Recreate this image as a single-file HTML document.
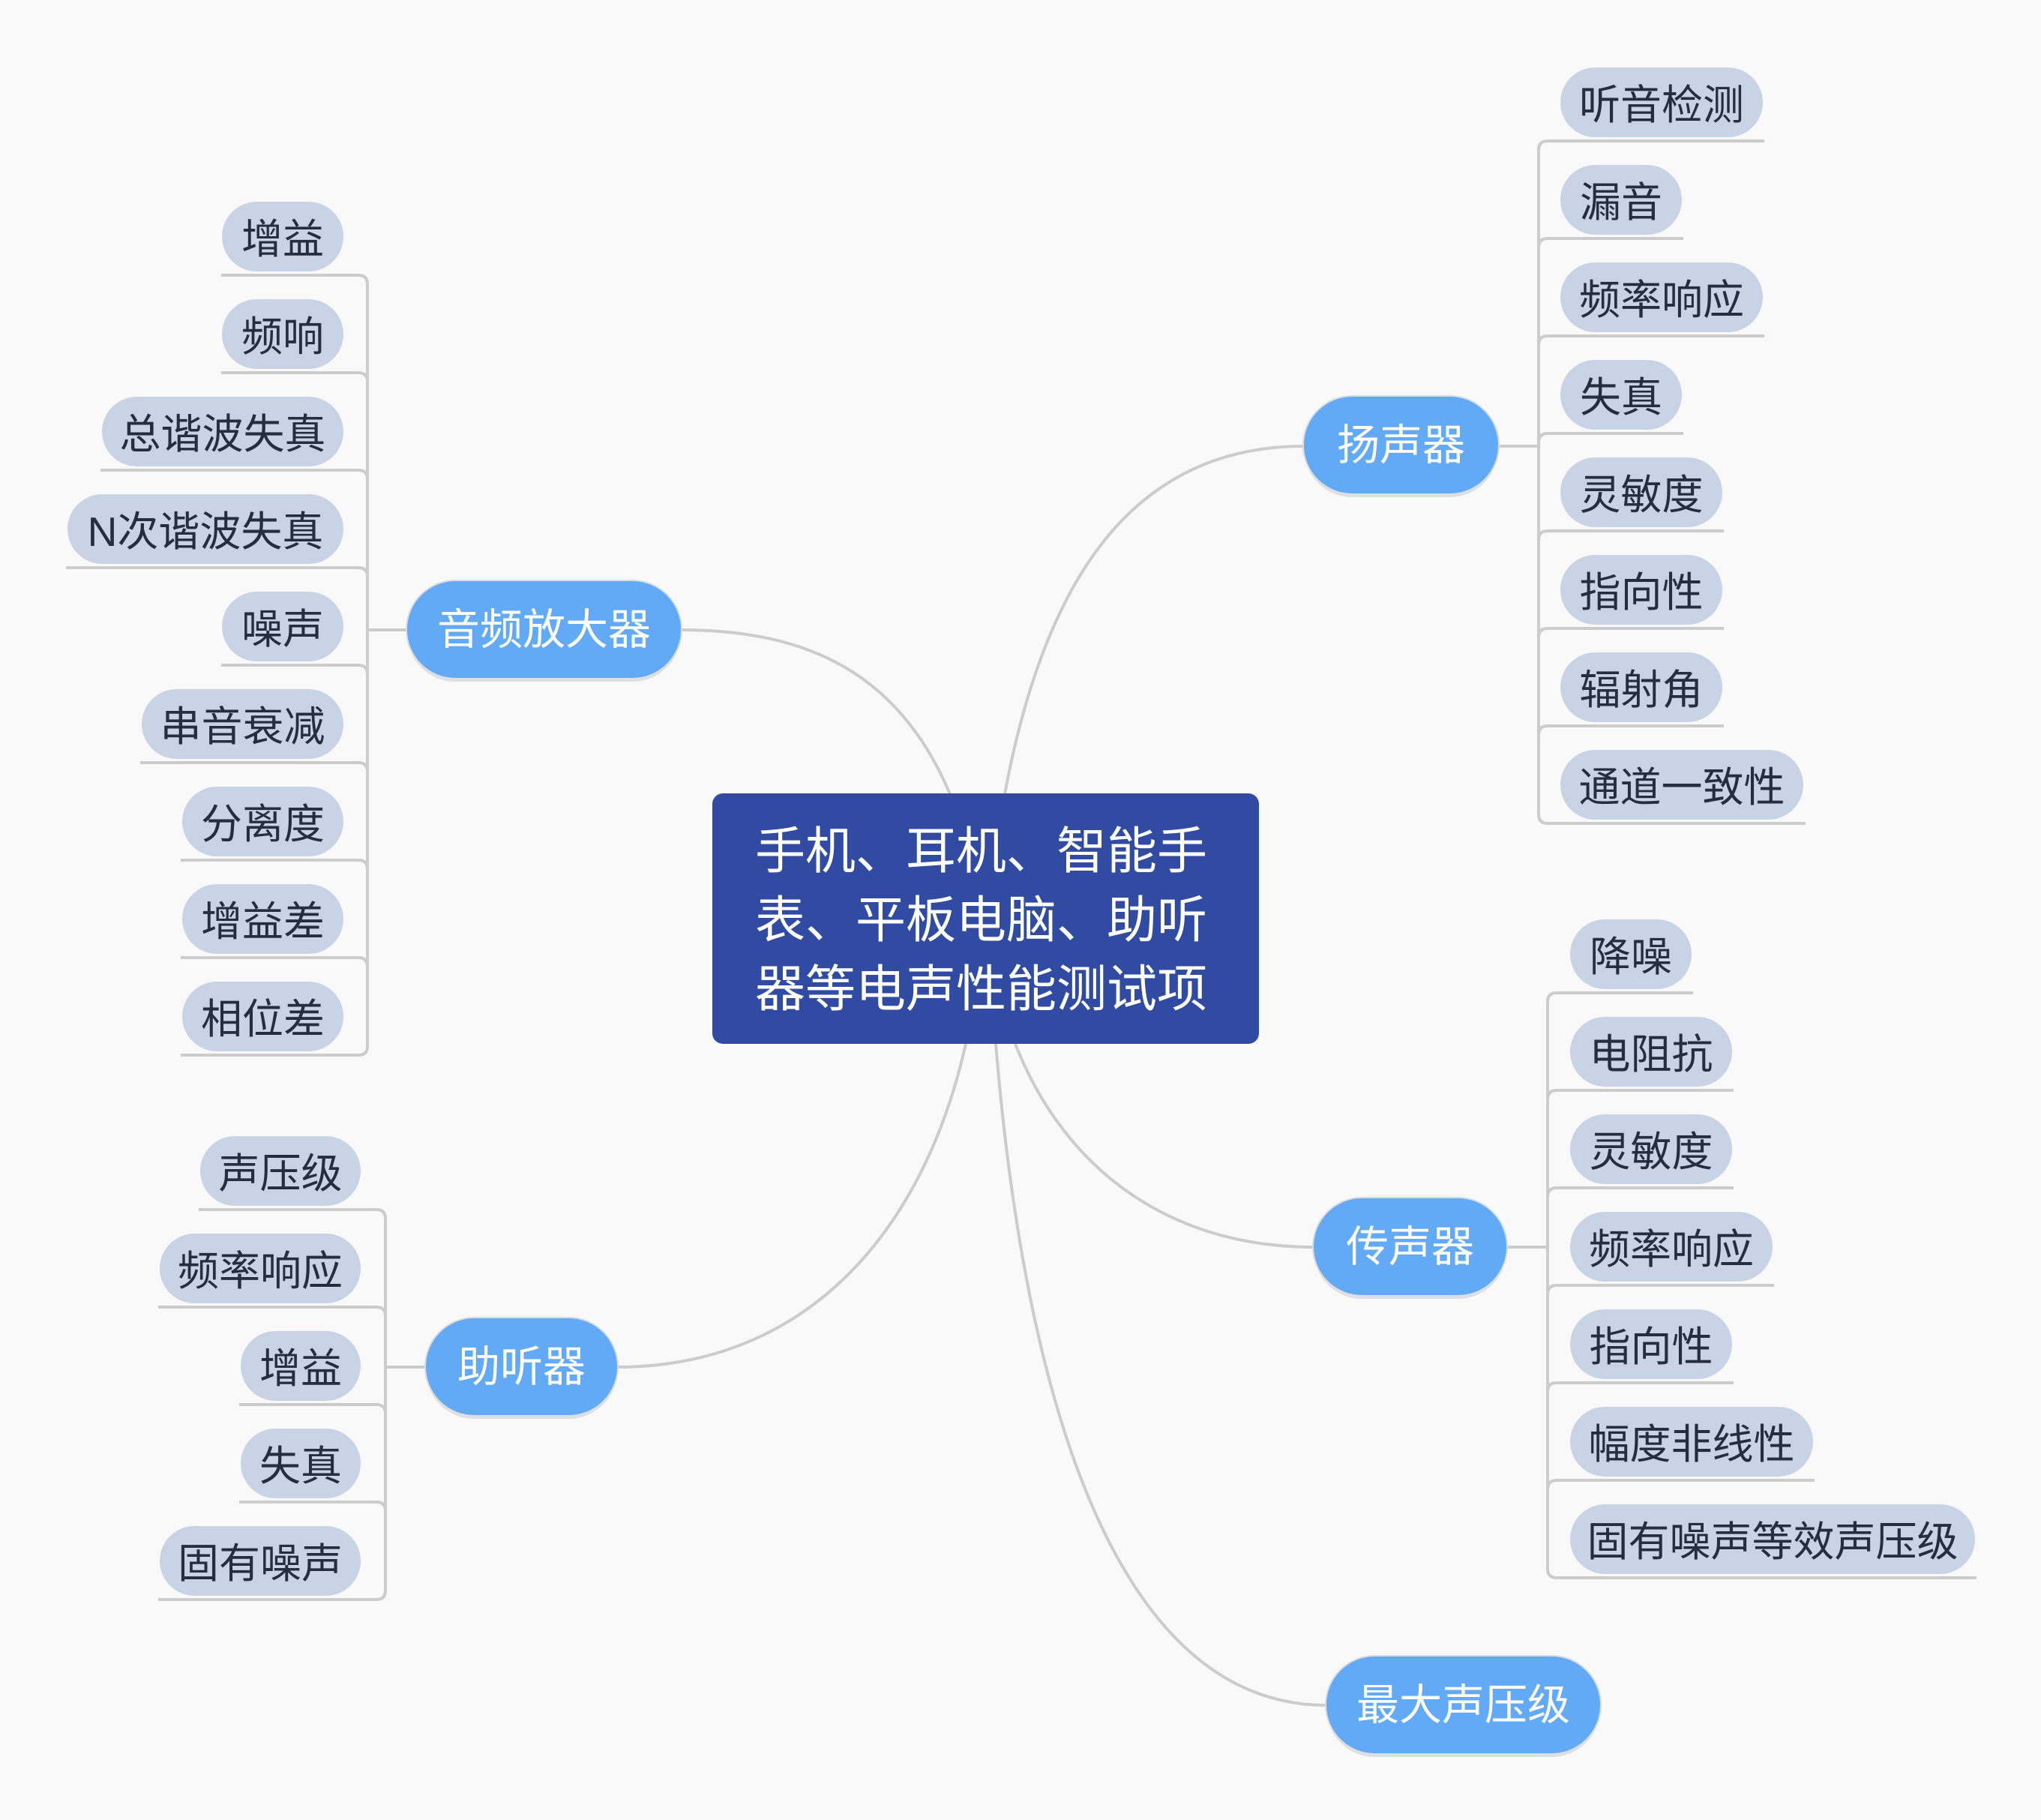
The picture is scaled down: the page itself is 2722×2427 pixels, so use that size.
<!DOCTYPE html>
<html><head><meta charset="utf-8"><style>
body{margin:0;width:2722px;height:2427px;background:#f9f9f9;position:relative;overflow:hidden;font-family:"Liberation Sans","Noto Sans CJK SC",sans-serif}
.p{position:absolute;height:93px;border-radius:47px;background:#c8d4e6;color:#242d42;font-size:55px;line-height:100px;text-align:center;white-space:nowrap}
.b{position:absolute;height:129px;border-radius:65px;background:#62aaf5;color:#fff;font-size:57px;line-height:131px;text-align:center;box-shadow:0 5px 0 #dcdfe3,0 0 0 2px #d8dde3;white-space:nowrap}
#c{position:absolute;left:950px;top:1058px;width:729px;height:334px;background:#314ba3;border-radius:14px;color:#fff;font-size:67px;line-height:92px;box-sizing:border-box;padding:32px 0 0 57px;white-space:nowrap}
</style></head><body>
<svg width="2722" height="2427" style="position:absolute;left:0;top:0" fill="none" stroke="#cccccc" stroke-width="4">
<path d="M1340 1059 C1390 790 1500 595 1739 595"/>
<path d="M1267 1059 C1200 900 1080 840 908 840"/>
<path d="M1288 1392 C1230 1650 1070 1823 823 1823"/>
<path d="M1354 1392 C1420 1560 1560 1663 1752 1663"/>
<path d="M1328 1392 C1370 1900 1500 2274 1769 2274"/>
<path d="M1998 595 H2052 M2052 200 V1086"/>
<path d="M2052 200 Q2052 188 2064 188 H2353 M2052 330 Q2052 318 2064 318 H2245 M2052 460 Q2052 448 2064 448 H2353 M2052 590 Q2052 578 2064 578 H2245 M2052 720 Q2052 708 2064 708 H2299 M2052 850 Q2052 838 2064 838 H2299 M2052 980 Q2052 968 2064 968 H2299 M2052 1086 Q2052 1098 2064 1098 H2408"/>
<path d="M543 840 H490 M490 379 V1395"/>
<path d="M490 379 Q490 367 478 367 H295 M490 509 Q490 497 478 497 H295 M490 639 Q490 627 478 627 H134 M490 769 Q490 757 478 757 H88 M490 899 Q490 887 478 887 H295 M490 1029 Q490 1017 478 1017 H187 M490 1159 Q490 1147 478 1147 H241 M490 1289 Q490 1277 478 1277 H241 M490 1395 Q490 1407 478 1407 H241"/>
<path d="M2009 1663 H2064 M2064 1336 V2092"/>
<path d="M2064 1336 Q2064 1324 2076 1324 H2258 M2064 1466 Q2064 1454 2076 1454 H2312 M2064 1596 Q2064 1584 2076 1584 H2312 M2064 1726 Q2064 1714 2076 1714 H2366 M2064 1856 Q2064 1844 2076 1844 H2312 M2064 1986 Q2064 1974 2076 1974 H2420 M2064 2092 Q2064 2104 2076 2104 H2636"/>
<path d="M568 1823 H514 M514 1625 V2121"/>
<path d="M514 1625 Q514 1613 502 1613 H265 M514 1755 Q514 1743 502 1743 H211 M514 1885 Q514 1873 502 1873 H319 M514 2015 Q514 2003 502 2003 H319 M514 2121 Q514 2133 502 2133 H211"/>
</svg>
<div id="c">手机、耳机、智能手<br>表、平板电脑、助听<br>器等电声性能测试项</div>
<div class="b" style="left:1739px;top:529px;width:259px">扬声器</div>
<div class="b" style="left:543px;top:775px;width:365px">音频放大器</div>
<div class="b" style="left:1752px;top:1598px;width:257px">传声器</div>
<div class="b" style="left:568px;top:1758px;width:255px">助听器</div>
<div class="b" style="left:1769px;top:2209px;width:365px">最大声压级</div>

<div class="p" style="left:2081px;top:90px;width:270px">听音检测</div>
<div class="p" style="left:2081px;top:220px;width:162px">漏音</div>
<div class="p" style="left:2081px;top:350px;width:270px">频率响应</div>
<div class="p" style="left:2081px;top:480px;width:162px">失真</div>
<div class="p" style="left:2081px;top:610px;width:216px">灵敏度</div>
<div class="p" style="left:2081px;top:740px;width:216px">指向性</div>
<div class="p" style="left:2081px;top:870px;width:216px">辐射角</div>
<div class="p" style="left:2081px;top:1000px;width:324px">通道一致性</div>

<div class="p" style="left:296px;top:269px;width:162px">增益</div>
<div class="p" style="left:296px;top:399px;width:162px">频响</div>
<div class="p" style="left:136px;top:529px;width:322px">总谐波失真</div>
<div class="p" style="left:90px;top:659px;width:368px">N次谐波失真</div>
<div class="p" style="left:296px;top:789px;width:162px">噪声</div>
<div class="p" style="left:189px;top:919px;width:269px">串音衰减</div>
<div class="p" style="left:243px;top:1049px;width:215px">分离度</div>
<div class="p" style="left:243px;top:1179px;width:215px">增益差</div>
<div class="p" style="left:243px;top:1309px;width:215px">相位差</div>

<div class="p" style="left:2094px;top:1226px;width:162px">降噪</div>
<div class="p" style="left:2094px;top:1356px;width:216px">电阻抗</div>
<div class="p" style="left:2094px;top:1486px;width:216px">灵敏度</div>
<div class="p" style="left:2094px;top:1616px;width:270px">频率响应</div>
<div class="p" style="left:2094px;top:1746px;width:216px">指向性</div>
<div class="p" style="left:2094px;top:1876px;width:324px">幅度非线性</div>
<div class="p" style="left:2094px;top:2006px;width:540px">固有噪声等效声压级</div>

<div class="p" style="left:267px;top:1515px;width:214px">声压级</div>
<div class="p" style="left:213px;top:1645px;width:268px">频率响应</div>
<div class="p" style="left:321px;top:1775px;width:160px">增益</div>
<div class="p" style="left:321px;top:1905px;width:160px">失真</div>
<div class="p" style="left:213px;top:2035px;width:268px">固有噪声</div>
</body></html>
